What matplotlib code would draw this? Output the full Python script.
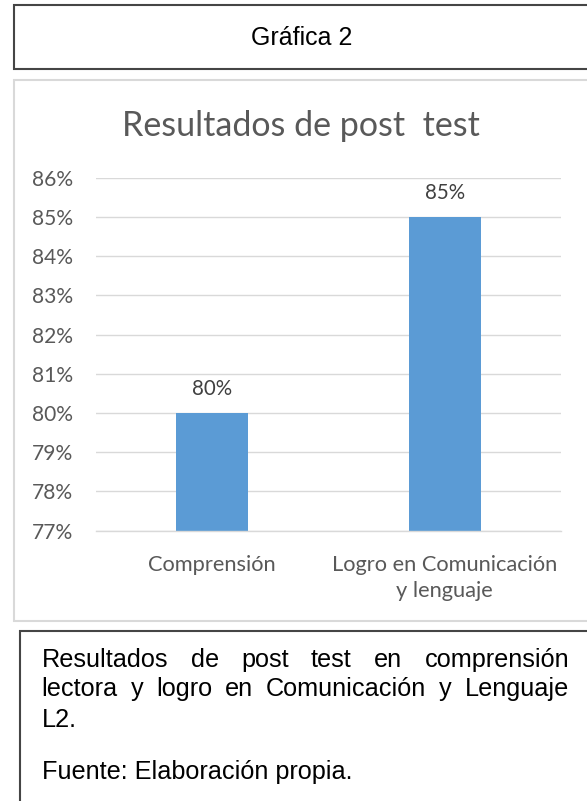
import matplotlib
matplotlib.use("Agg")
import matplotlib.pyplot as plt
from matplotlib.lines import Line2D
from matplotlib.ticker import FuncFormatter

# ---- data ----
categories = ["Comprensión", "Logro en Comunicación\ny lenguaje"]
values = [80, 85]
yticks = [77, 78, 79, 80, 81, 82, 83, 84, 85, 86]
title = "Resultados de post  test"
header = "Gráfica 2"
caption_lines = [
    ["Resultados", "de", "post", "test", "en", "comprensión"],
    ["lectora", "y", "logro", "en", "Comunicación", "y", "Lenguaje"],
]
caption_last = "L2."
source = "Fuente: Elaboración propia."

W, H = 587, 801
fig = plt.figure(figsize=(W / 100, H / 100), dpi=100)
fig.patch.set_facecolor("white")


def fx(x):
    return x / W


def fy(y):
    return 1 - y / H


def hline(x0, x1, y, color, lw):
    fig.add_artist(Line2D([fx(x0), fx(x1)], [fy(y), fy(y)], transform=fig.transFigure,
                          color=color, lw=lw, solid_capstyle="butt"))


def vline(x, y0, y1, color, lw):
    fig.add_artist(Line2D([fx(x), fx(x)], [fy(y0), fy(y1)], transform=fig.transFigure,
                          color=color, lw=lw, solid_capstyle="butt"))


dark = "#454545"
light = "#d9d9d9"
# header box
hline(12.5, W + 5, 4.7, dark, 1.5)
hline(12.5, W + 5, 69, dark, 1.5)
vline(13.5, 4, 69.7, dark, 1.5)
# chart box
hline(12.5, W + 5, 79.5, light, 1.5)
hline(12.5, W + 5, 621, light, 1.5)
vline(13.5, 79, 621.7, light, 1.5)
# caption box
hline(19, W + 5, 631, dark, 1.5)
vline(20, 630.3, H + 5, dark, 1.5)

# ---- axes ----
left, right, top, bottom = 96, 561, 177.7, 530.7
ax = fig.add_axes([fx(left), fy(bottom), fx(right) - fx(left), (bottom - top) / H])
x = list(range(len(categories)))
bars = ax.bar(x, values, width=0.31, color="#5b9bd5", zorder=3)
ax.set_xlim(-0.5, len(categories) - 0.5)
ax.set_ylim(yticks[0], yticks[-1])
ax.set_yticks(yticks)
ax.yaxis.set_major_formatter(FuncFormatter(lambda v, p: f"{v:.0f}%"))
ax.set_xticks(x)
ax.set_xticklabels(categories, linespacing=1.35)
ax.grid(axis="y", color=light, lw=1.0, zorder=0)
for s in ["top", "right", "left"]:
    ax.spines[s].set_visible(False)
ax.spines["bottom"].set_color(light)
ax.spines["bottom"].set_linewidth(1.0)
ax.spines["bottom"].set_zorder(4)

lato = "Lato"
fs = 16.0
ax.tick_params(axis="y", length=0, pad=16.5, labelsize=fs, labelcolor="#595959")
ax.tick_params(axis="x", length=0, pad=17.5, labelsize=fs, labelcolor="#595959")
for lab in ax.get_xticklabels() + ax.get_yticklabels():
    lab.set_fontfamily(lato)

labels = []
for xi, v in zip(x, values):
    t = ax.annotate(f"{v}%", (xi, v), xytext=(0, 12.7), textcoords="offset points",
                    ha="center", va="baseline", fontsize=fs, color="#404040",
                    fontfamily=lato)
    labels.append(t)

ttl = fig.text(fx(301.3), fy(136), title, ha="center", va="baseline", fontsize=24,
               color="#595959", fontfamily=lato)

# fit Lato sizes to measured widths
fig.canvas.draw()
r = fig.canvas.get_renderer()
w = ax.get_xticklabels()[0].get_window_extent(r).width
fs2 = fs * 129.0 / w
ax.tick_params(axis="x", labelsize=fs2)
wy = ax.get_yticklabels()[-1].get_window_extent(r).width
ax.tick_params(axis="y", labelsize=fs * 41.5 / wy)
for t in labels:
    t.set_fontsize(fs * 40.5 / wy)
wt = ttl.get_window_extent(r).width
ttl.set_fontsize(24 * 357.0 / wt)

# ---- header text ----
arial = "Liberation Sans"
fig.text(fx(302), fy(45), header, ha="center", va="baseline", fontsize=18,
         color="black", fontfamily=arial)

# ---- caption (justified) ----
cfs = 18.2
x0, x1 = 41.7, 569
baselines = [667, 696, 727]
for words, yb in zip(caption_lines, baselines[:2]):
    texts = [fig.text(0, fy(yb), wd, ha="left", va="baseline", fontsize=cfs,
                      color="black", fontfamily=arial) for wd in words]
    fig.canvas.draw()
    widths = [t.get_window_extent(r).width for t in texts]
    gap = (x1 - x0 - sum(widths)) / (len(words) - 1)
    cx = x0
    for t, wd in zip(texts, widths):
        t.set_x(fx(cx))
        cx += wd + gap
fig.text(fx(x0), fy(baselines[2]), caption_last, ha="left", va="baseline", fontsize=cfs,
         color="black", fontfamily=arial)
fig.text(fx(x0), fy(779), source, ha="left", va="baseline", fontsize=cfs,
         color="black", fontfamily=arial)

fig.savefig("out.png", dpi=100, facecolor="white")
